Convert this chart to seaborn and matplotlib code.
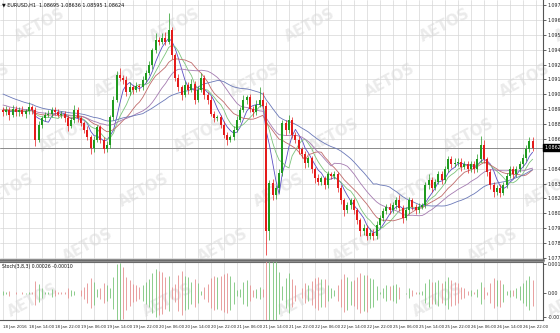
import numpy as np
import pandas as pd
import matplotlib
matplotlib.use("Agg")
import matplotlib.pyplot as plt
import seaborn as sns

sns.set_style("white")
plt.rcParams['font.family'] = ['DejaVu Sans']

# ---------------- data (EURUSD H1) ----------------
first_open = 1.0893
closes = [
    1.0891, 1.0893, 1.0889, 1.0894, 1.0891, 1.0893, 1.0890, 1.0892, 1.0895, 1.0893,
    1.0869, 1.0881, 1.0886, 1.0889, 1.0890, 1.0893, 1.0891, 1.0889, 1.0890, 1.0886,
    1.0880, 1.0885, 1.0893, 1.0886, 1.0882, 1.0877, 1.0871, 1.0862, 1.0869, 1.0879,
    1.0869, 1.0861, 1.0865, 1.0887, 1.0901, 1.0921, 1.0919, 1.0917, 1.0907, 1.0911,
    1.0909, 1.0912, 1.0911, 1.0917, 1.0923, 1.0929, 1.0941, 1.0949, 1.0948, 1.0951,
    1.0948, 1.0957, 1.0937, 1.0919, 1.0911, 1.0905, 1.0913, 1.0909, 1.0914, 1.0901,
    1.0909, 1.0919, 1.0905, 1.0901, 1.0890, 1.0886, 1.0887, 1.0881, 1.0873, 1.0869,
    1.0871, 1.0877, 1.0885, 1.0893, 1.0901, 1.0903, 1.0894, 1.0891, 1.0897, 1.0901,
    1.0896, 1.0795, 1.0834, 1.0824, 1.0830, 1.0842, 1.0882, 1.0877, 1.0885, 1.0873,
    1.0869, 1.0861, 1.0857, 1.0850, 1.0854, 1.0845, 1.0838, 1.0835, 1.0838, 1.0832,
    1.0841, 1.0840, 1.0841, 1.0830, 1.0820, 1.0812, 1.0816, 1.0820, 1.0812, 1.0804,
    1.0795, 1.0798, 1.0791, 1.0794, 1.0791, 1.0800, 1.0806, 1.0811, 1.0815, 1.0812,
    1.0816, 1.0820, 1.0814, 1.0806, 1.0812, 1.0820, 1.0815, 1.0812, 1.0815, 1.0816,
    1.0832, 1.0836, 1.0830, 1.0835, 1.0841, 1.0836, 1.0845, 1.0853, 1.0849, 1.0850,
    1.0851, 1.0847, 1.0849, 1.0845, 1.0849, 1.0845, 1.0853, 1.0865, 1.0853, 1.0843,
    1.0832, 1.0827, 1.0830, 1.0826, 1.0832, 1.0840, 1.0845, 1.0841, 1.0845, 1.0849,
    1.0854, 1.0861, 1.0868, 1.0862,
]
wick_up_pips = [
    2, 3, 2, 3, 2, 2, 3, 2, 4, 2,   2, 3, 2, 2, 3, 2, 2, 3, 2, 2,
    3, 2, 4, 2, 2, 2, 3, 2, 3, 2,   2, 2, 3, 2, 3, 3, 6, 2, 3, 4,
    2, 3, 2, 3, 2, 3, 2, 6, 3, 4,   5, 14, 3, 2, 3, 2, 3, 2, 4, 2,
    3, 4, 2, 2, 3, 2, 2, 2, 3, 2,   2, 3, 3, 2, 4, 2, 3, 2, 4, 10,
    6, 3, 2, 3, 2, 3, 3, 3, 4, 2,   2, 3, 2, 3, 2, 2, 2, 3, 2, 2,
    3, 2, 3, 2, 2, 2, 3, 2, 2, 2,   2, 3, 2, 4, 3, 3, 2, 3, 2, 3,
    3, 3, 4, 2, 3, 3, 2, 2, 3, 2,   3, 5, 3, 2, 3, 3, 3, 3, 3, 4,
    3, 3, 3, 3, 3, 3, 4, 7, 4, 2,   2, 3, 2, 3, 3, 2, 3, 3, 3, 3,
    3, 4, 3, 3,
]
wick_dn_pips = [
    3, 2, 4, 2, 3, 3, 2, 4, 2, 3,   5, 2, 3, 2, 2, 3, 2, 2, 3, 3,
    4, 2, 3, 3, 2, 3, 2, 5, 3, 2,   3, 3, 2, 3, 2, 2, 3, 3, 3, 2,
    3, 2, 3, 2, 2, 2, 3, 2, 3, 2,   3, 2, 3, 3, 3, 4, 2, 3, 2, 3,
    2, 2, 3, 3, 2, 3, 2, 3, 3, 4,   2, 2, 2, 2, 2, 3, 3, 4, 2, 2,
    2, 19, 7, 4, 3, 3, 2, 4, 3, 3,  3, 4, 3, 4, 3, 3, 4, 3, 3, 3,
    2, 3, 3, 3, 3, 5, 2, 3, 3, 3,   4, 3, 3, 2, 3, 2, 2, 3, 2, 3,
    2, 3, 3, 4, 2, 3, 3, 3, 2, 2,   2, 3, 3, 2, 2, 3, 2, 2, 3, 2,
    2, 3, 2, 3, 2, 3, 2, 2, 3, 3,   3, 4, 3, 3, 2, 2, 2, 3, 2, 2,
    2, 2, 2, 2,
]
# closes before the visible window (needed only for the moving averages)
warmup_closes = [
    1.0935, 1.0931, 1.0928, 1.0930, 1.0925, 1.0922, 1.0924, 1.0919, 1.0916, 1.0918,
    1.0913, 1.0911, 1.0914, 1.0909, 1.0906, 1.0908, 1.0904, 1.0901, 1.0903, 1.0899,
    1.0897, 1.0900, 1.0896, 1.0894, 1.0897, 1.0893, 1.0895, 1.0892, 1.0894, 1.0891,
    1.0893, 1.0895, 1.0891, 1.0893,
]
ma_periods = [5, 8, 13, 21, 34]
ma_colors = ["#5b4fc4", "#7cc47c", "#c06a6a", "#a47ab0", "#6a78b8"]

price_ticks = [1.09775, 1.09655, 1.09535, 1.09415, 1.09295, 1.09175, 1.09055, 1.08935,
               1.08815, 1.08695, 1.08455, 1.08335, 1.08215, 1.08095,
               1.07975, 1.07855, 1.07735]
last_price = 1.08624
time_labels = ["18 Jan 2016", "18 Jan 14:00", "18 Jan 22:00", "19 Jan 06:00", "19 Jan 14:00",
               "19 Jan 22:00", "20 Jan 06:00", "20 Jan 14:00", "20 Jan 22:00", "21 Jan 06:00",
               "21 Jan 14:00", "21 Jan 22:00", "22 Jan 06:00", "22 Jan 14:00", "22 Jan 22:00",
               "25 Jan 06:00", "25 Jan 14:00", "25 Jan 22:00", "26 Jan 06:00", "26 Jan 14:00",
               "26 Jan 22:00"]
osc_ticks = [0.00156, 0.0, -0.00128]
osc_tick_labels = ["0.00156", "0.00", "-0.00128"]

# ---------------- derived frame ----------------
n = len(closes)
x = np.arange(n)
opens = [first_open] + closes[:-1]
df = pd.DataFrame({"x": x, "open": opens, "close": closes})
df["high"] = df[["open", "close"]].max(axis=1) + np.array(wick_up_pips) * 1e-4
df["low"] = df[["open", "close"]].min(axis=1) - np.array(wick_dn_pips) * 1e-4
df["up"] = df["close"] >= df["open"]
full = pd.Series(warmup_closes + closes)
nw = len(warmup_closes)

W, H = 560, 333
fig = plt.figure(figsize=(W / 100, H / 100), dpi=100)
fig.patch.set_facecolor("white")

ax = fig.add_axes([0, 1 - 260 / H, 543 / W, 260 / H])
axo = fig.add_axes([0, 1 - 320 / H, 543 / W, 58 / H], sharex=ax)
for a in (ax, axo):
    a.set_facecolor("none")

# watermark
for r in range(-1, 7):
    for c in range(-1, 5):
        px = 40 + 135 * c + 68 * (r % 2) + 12 * r
        py = 25 + 55 * r
        fig.text(px / W, 1 - py / H, "AETOS", rotation=28, fontsize=10.5, fontweight="bold",
                 color="#ebebeb", ha="center", va="center", zorder=-5)

# grid
grid_c = "#d6d6d6"
for gx in range(0, n + 4, 4):
    ax.axvline(gx, color=grid_c, lw=0.5, zorder=0)
    axo.axvline(gx, color=grid_c, lw=0.5, zorder=0)
for gy in price_ticks:
    ax.axhline(gy, color=grid_c, lw=0.5, zorder=0)

# moving averages
for p, col in zip(ma_periods, ma_colors):
    ma = full.rolling(p, min_periods=1).mean().iloc[nw:].values
    sns.lineplot(x=x, y=ma, ax=ax, color=col, lw=0.6, legend=False, zorder=2)

# candles
cols = np.where(df["up"], "#1f9a1f", "#e41b1b")
ax.vlines(df["x"], df["low"], df["high"], colors=cols, lw=0.5, zorder=3)
body_lo = df[["open", "close"]].min(axis=1)
body_h = np.maximum((df["close"] - df["open"]).abs(), 0.00004)
ax.bar(df["x"], body_h, bottom=body_lo, width=0.62, color=cols, linewidth=0, zorder=4)

# current price line
ax.axhline(last_price, color="#8a8a8a", lw=0.7, zorder=1)

ax.set_xlim(-0.92, 166.2)
ax.set_ylim(1.07719, 1.09815)
ax.yaxis.tick_right()
ax.set_yticks(price_ticks)
ax.set_yticklabels([f"{t:.5f}" for t in price_ticks])
ax.tick_params(axis="y", labelsize=3.4, length=2, pad=1.2, width=0.5, colors="#222222")
ax.tick_params(axis="x", bottom=False, labelbottom=False)
ax.text(1.003, (last_price - 1.07719) / (1.09815 - 1.07719), f"{last_price:.5f}",
        transform=ax.transAxes, fontsize=3.4, color="white", va="center", ha="left",
        bbox=dict(boxstyle="square,pad=0.25", fc="black", ec="black"), clip_on=False)
ax.text(0.004, 0.992, "\u25bc EURUSD,H1  1.08695 1.08636 1.08595 1.08624", transform=ax.transAxes,
        fontsize=3.5, va="top", ha="left", color="#111111")

for s in ["left", "top"]:
    ax.spines[s].set_visible(False)
ax.spines["right"].set_color("#555555")
ax.spines["right"].set_linewidth(0.8)
ax.spines["bottom"].set_color("#6b6b6b")
ax.spines["bottom"].set_linewidth(1.8)

# oscillator
ema_f = full.ewm(span=3, adjust=False).mean()
ema_s = full.ewm(span=8, adjust=False).mean()
osc = (ema_f - ema_s).iloc[nw:].reset_index(drop=True)
amp = osc.abs()
rising = osc.diff().fillna(0) >= 0
ocols = np.where(rising, "#79c479", "#e58f8f")
axo.vlines(x, -amp.values, amp.values, colors=ocols, lw=0.6, zorder=3)
axo.set_ylim(-0.00145, 0.00167)
axo.yaxis.tick_right()
axo.set_yticks(osc_ticks)
axo.set_yticklabels(osc_tick_labels)
axo.tick_params(axis="y", labelsize=3.4, length=2, pad=1.2, width=0.5, colors="#222222")
axo.set_xticks(np.arange(0, 8 * len(time_labels), 8))
axo.set_xticklabels(time_labels, ha="left")
axo.tick_params(axis="x", labelsize=2.9, length=2, pad=1.5, width=0.5, colors="#222222")
axo.text(0.004, 0.97, "Stoch(3,8,3) 0.00026 -0.00010", transform=axo.transAxes,
         fontsize=3.3, va="top", ha="left", color="#111111")
axo.spines["left"].set_visible(False)
axo.spines["top"].set_color("#6b6b6b")
axo.spines["top"].set_linewidth(0.8)
axo.spines["right"].set_color("#555555")
axo.spines["right"].set_linewidth(0.8)
axo.spines["bottom"].set_color("#555555")
axo.spines["bottom"].set_linewidth(0.8)
ax.set_xlim(-0.92, 166.2)

fig.savefig("out.png", dpi=100, facecolor="white")
